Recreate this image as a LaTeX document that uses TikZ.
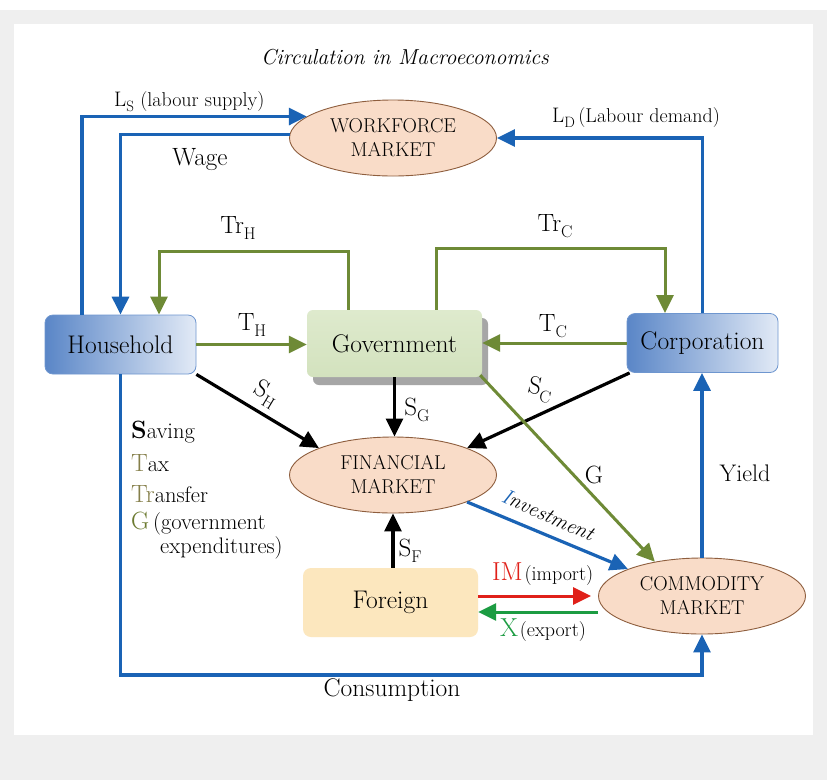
\documentclass[tikz,border=0pt]{standalone}
\usetikzlibrary{arrows.meta,shadows,calc,shapes.geometric}
\definecolor{myblue}{HTML}{1A63B5}
\definecolor{olv}{HTML}{6E8A36}
\definecolor{khaki}{HTML}{857F4A}
\definecolor{gleg}{HTML}{6C7A30}
\definecolor{myred}{HTML}{E02019}
\definecolor{mygreen}{HTML}{1C9C42}
\definecolor{bgg}{HTML}{EFEFEF}
\definecolor{hhdark}{HTML}{5A86C7}
\definecolor{hhlight}{HTML}{E2EAF6}
\definecolor{hhedge}{HTML}{6E96CF}
\definecolor{govfill}{HTML}{D3E2BE}
\definecolor{govtop}{HTML}{DEEACD}
\definecolor{frgfill}{HTML}{FCE7BE}
\definecolor{mktfill}{HTML}{F9DCC8}
\definecolor{mktedge}{HTML}{8E5E3E}
\newcommand\myfs[1]{\fontsize{#1}{#1}\selectfont}
\newcommand\sbx[1]{{\myfs{17}\raisebox{-6pt}{#1}}}
\newcommand\sbs[1]{{\myfs{15}\raisebox{-5pt}{#1}}}
\begin{document}
\begin{tikzpicture}[x=1pt,y=-1pt,
  tip/.style={-{Triangle[length=18pt,width=17pt]}},
  bluearrow/.style={draw=myblue,line width=3.2pt,tip},
  olvarrow/.style={draw=olv,line width=3pt,tip},
  blkarrow/.style={draw=black,line width=3.2pt,tip},
  redarrow/.style={draw=myred,line width=3pt,tip},
  grnarrow/.style={draw=mygreen,line width=3pt,tip},
  hbox/.style={rounded corners=8pt,left color=hhdark,right color=hhlight,draw=hhedge,line width=0.8pt,minimum width=151pt,minimum height=59pt,inner sep=0pt,font=\myfs{25.5}},
  gbox/.style={rounded corners=6pt,top color=govtop,bottom color=govfill,minimum width=175pt,minimum height=67pt,inner sep=0pt,font=\myfs{25.5},
     drop shadow={shadow xshift=6pt,shadow yshift=-8pt,fill=black!35,opacity=1}},
  fbox/.style={rounded corners=8pt,fill=frgfill,minimum width=175pt,minimum height=69pt,inner sep=0pt,font=\myfs{25.5}},
  mkt/.style={ellipse,fill=mktfill,draw=mktedge,line width=0.9pt,minimum width=207pt,minimum height=76pt,inner sep=0pt,align=center,font=\fontsize{20}{24}\selectfont},
  lbl/.style={inner sep=0pt,font=\myfs{25}},
  leg/.style={inner sep=0pt,anchor=west,font=\myfs{22.5}}
]
\path[use as bounding box] (0,0) rectangle (827,780);
\fill[white] (0,0) rectangle (827,780);
\fill[bgg] (0,10) rectangle (827,780);
\fill[white] (14,24) rectangle (813,735);

% nodes
\node[hbox] (hh) at (120.5,344.5) {Household};
\node[gbox] (gov) at (394.5,343.5) {Government};
\node[hbox] (corp) at (702.5,343) {Corporation};
\node[fbox] (frg) at (390.5,602.5) {Foreign};
\node[mkt] (wf) at (393,138) {WORKFORCE\\MARKET};
\node[mkt] (fin) at (393,475) {FINANCIAL\\MARKET};
\node[mkt] (com) at (702,596) {COMMODITY\\MARKET};

% title
\node[inner sep=0pt,font=\itshape\myfs{21.7}] (title) at (405,57) {Circulation in Macroeconomics};

% labour market
\draw[bluearrow] ([xshift=-38.5pt]hh.north) |- (wf.166);
\draw[bluearrow] (wf.178) -| (hh.north);
\draw[bluearrow] (corp.north) |- (wf.east);
\node[inner sep=0pt,anchor=west,font=\myfs{21}] (ls) at (114,102) {L\sbs{S} {\myfs{20}(labour supply)}};
\node[inner sep=0pt,anchor=west,font=\myfs{21}] (ld) at (552,118) {L\sbs{D}\,{\myfs{20}(Labour demand)}};
\node[lbl] (wage) at (200,160) {Wage};

% transfers and taxes
\draw[olvarrow] ([xshift=-46.5pt]gov.north) -- ++(0,-58) -| ([xshift=38.5pt]hh.north);
\draw[olvarrow] ([xshift=41.5pt]gov.north) -- ++(0,-61) -| ([xshift=-37.5pt]corp.north);
\draw[olvarrow] (hh.east) -- (hh.east -| gov.west);
\draw[olvarrow] (corp.west) -- (corp.west -| gov.east);
\node[lbl] (trh) at (238,228) {Tr\sbx{H}};
\node[lbl] (trc) at (555,226) {Tr\sbx{C}};
\node[lbl] (th) at (252,325) {T\sbx{H}};
\node[lbl] (tc) at (553,326) {T\sbx{C}};

% savings
\draw[blkarrow] (hh.south east) -- (fin.160);
\draw[blkarrow] (gov.south) -- (gov.south |- fin.north);
\draw[blkarrow] ([xshift=3pt]corp.south west) -- (fin.20);
\draw[blkarrow] (fin.south |- frg.north) -- (fin.south);
\node[lbl,rotate=-31] (sh) at (266,394) {S\sbx{H}};
\node[lbl] (sg) at (417,410) {S\sbx{G}};
\node[lbl,rotate=-12] (sc) at (540,390) {S\sbx{C}};
\node[lbl] (sf) at (410,551) {S\sbx{F}};

% government expenditure, investment
\draw[olvarrow] ([xshift=-2pt,yshift=2pt]gov.south east) -- (com.144);
\node[lbl] (g) at (594,475) {G};
\draw[bluearrow] (fin.-20) -- (com.160);
\node[inner sep=0pt,rotate=-24,font=\itshape\myfs{21}] (inv) at (548,515) {\textcolor{myblue}{I}nvestment};

% yield and consumption
\draw[bluearrow] (com.north) -- (com.north |- corp.south);
\node[lbl,font=\myfs{24}] (yield) at (745,473) {Yield};
\draw[bluearrow] (hh.south) |- (com.south |- 0,675) -- (com.south);
\node[lbl,font=\myfs{25.5}] (cons) at (392,690) {Consumption};

% trade
\draw[redarrow] (frg.east |- com.west) -- ([xshift=-7pt]com.west);
\coordinate (xs) at ([yshift=-16pt]com.west);
\draw[grnarrow] (xs) -- (xs -| frg.east);
\node[inner sep=0pt,anchor=west] (im) at (492,574) {\textcolor{myred}{\myfs{26}IM}\,{\myfs{20}(import)}};
\node[inner sep=0pt,anchor=west] (ex) at (500,630) {\textcolor{mygreen}{\myfs{26}X}\,{\myfs{20}(export)}};

% legend
\node[leg] (l1) at (131,432) {{\bfseries\myfs{25}S}aving};
\node[leg] (l2) at (131,463) {\textcolor{khaki}{\myfs{25}T}ax};
\node[leg] (l3) at (131,494) {\textcolor{khaki}{\myfs{25}Tr}ansfer};
\node[leg] (l4) at (131,524) {\textcolor{gleg}{\myfs{25}G}\,(government};
\node[leg] (l5) at (160,548) {expenditures)};
\end{tikzpicture}
\end{document}
